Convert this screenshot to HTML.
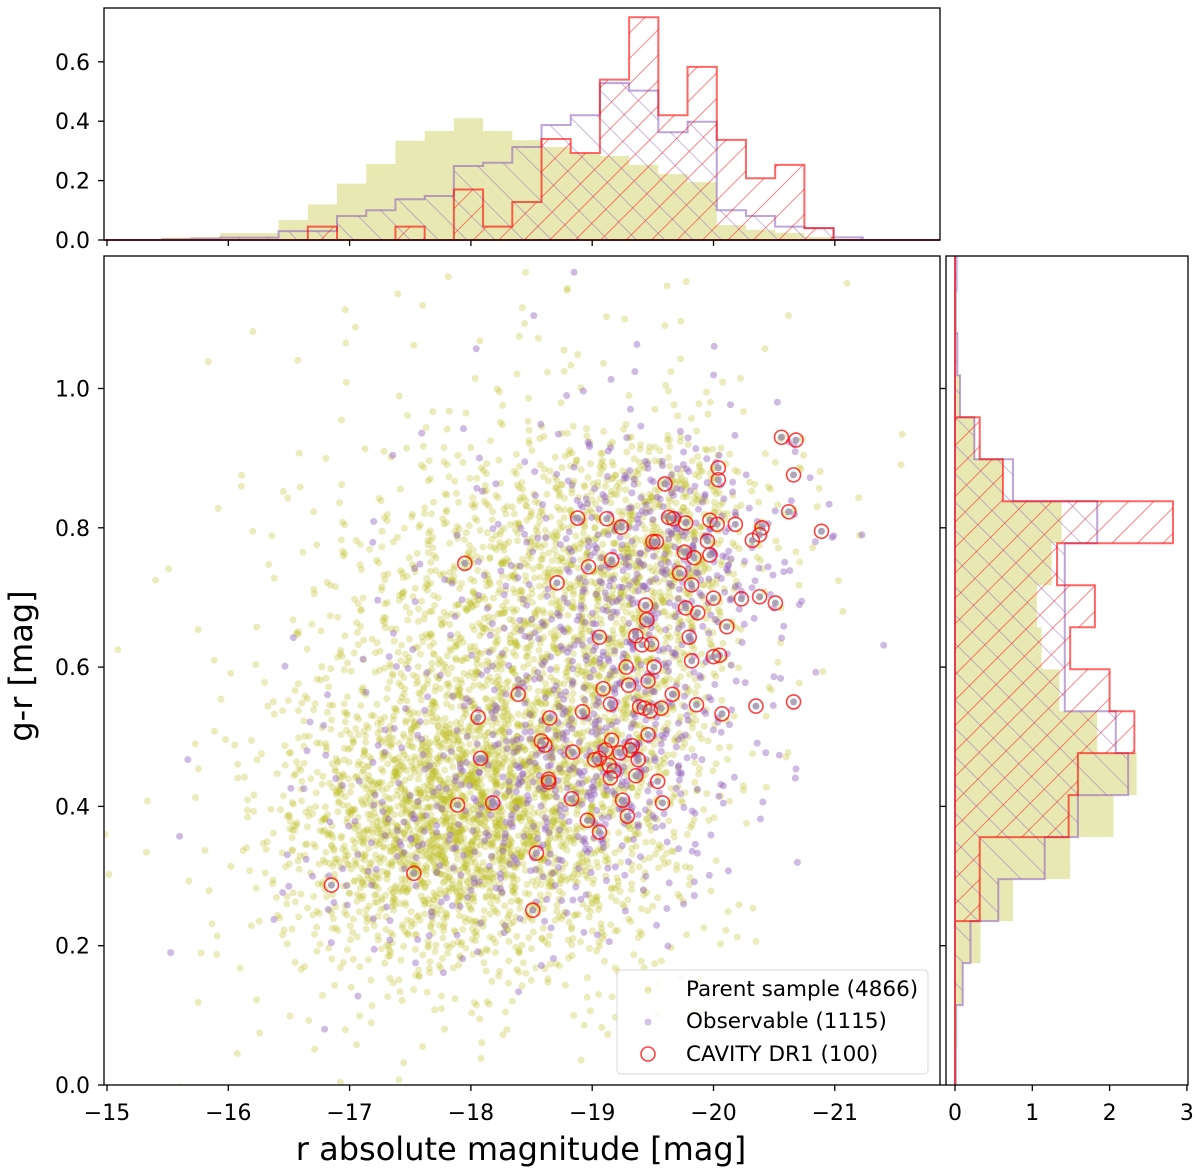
<!DOCTYPE html>
<html><head><meta charset="utf-8"><style>
html,body{margin:0;padding:0;background:#fff;}
svg{display:block;font-family:"DejaVu Sans","Liberation Sans",sans-serif;}
</style></head><body>
<svg id="chart" width="1200" height="1172" viewBox="0 0 1200 1172" xmlns="http://www.w3.org/2000/svg">
<defs>
<pattern id="redHatch" width="18" height="18" patternUnits="userSpaceOnUse" patternTransform="rotate(45)"><line x1="0" y1="0" x2="0" y2="18" stroke="#ff0000" stroke-opacity="0.6" stroke-width="1.6"/></pattern>
<pattern id="purpleHatch" width="20" height="20" patternUnits="userSpaceOnUse" patternTransform="rotate(-45)"><line x1="0" y1="0" x2="0" y2="20" stroke="#9467bd" stroke-opacity="0.6" stroke-width="1.6"/></pattern>
<clipPath id="clipTop"><rect x="104" y="8" width="836" height="233"/></clipPath>
<clipPath id="clipMain"><rect x="104" y="256" width="836" height="829"/></clipPath>
<clipPath id="clipRight"><rect x="946" y="256" width="242" height="829"/></clipPath>
</defs>
<g id="top-hist" clip-path="url(#clipTop)"></g>
<g id="main-plot" clip-path="url(#clipMain)"></g>
<g id="right-hist" clip-path="url(#clipRight)"></g>
<rect x="104" y="8" width="836" height="232" fill="none" stroke="#000" stroke-width="1.3"/>
<rect x="104" y="256" width="836" height="829" fill="none" stroke="#000" stroke-width="1.3"/>
<rect x="946" y="256" width="242" height="829" fill="none" stroke="#000" stroke-width="1.3"/>
<g id="axes" font-size="22" fill="#000"></g>
<text x="521" y="1160" font-size="32" text-anchor="middle">r absolute magnitude [mag]</text>
<text transform="translate(32,666) rotate(-90)" font-size="32" text-anchor="middle">g-r [mag]</text>
<g>
<rect x="617" y="970" width="311" height="104" rx="4" fill="#fff" fill-opacity="0.85" stroke="#d8d8d8" stroke-width="1"/>
<circle cx="648" cy="990" r="3.5" fill="#bcbd22" fill-opacity="0.35"/>
<text x="686" y="996" font-size="21.5">Parent sample (4866)</text>
<circle cx="648" cy="1022" r="3.5" fill="#9467bd" fill-opacity="0.4"/>
<text x="686" y="1028" font-size="21.5">Observable (1115)</text>
<circle cx="648" cy="1054" r="7" fill="none" stroke="#ff0000" stroke-opacity="0.75" stroke-width="1.6"/>
<text x="686" y="1061" font-size="21.5">CAVITY DR1 (100)</text>
</g>
</svg>
<script>
// ---- data ----
const magTicks = [-15,-16,-17,-18,-19,-20,-21];
const colorTicks = [0.0,0.2,0.4,0.6,0.8,1.0];
const topHistTicks = [0.0,0.2,0.4,0.6];
const rightHistTicks = [0,1,2,3];
const magBinStart = -14.97;
const magBinWidth = 0.2408;
const topParent = [0.002,0.003,0.008,0.01,0.023,0.023,0.067,0.12,0.19,0.256,0.334,0.367,0.41,0.367,0.336,0.313,0.29,0.283,0.253,0.222,0.195,0.05,0.034,0.024,0.01,0.002,0,0,0];
const topObservable = [0,0,0.002,0.004,0.008,0.008,0.03,0.03,0.081,0.1,0.137,0.148,0.249,0.26,0.313,0.387,0.42,0.528,0.503,0.363,0.398,0.1,0.081,0.045,0.04,0.009,0,0,0];
const topCavity = [0,0,0,0,0,0,0,0.045,0,0,0.045,0,0.17,0.045,0.128,0.34,0.293,0.54,0.75,0.42,0.583,0.337,0.208,0.253,0.04,0,0,0,0];
const colorBinStart = -0.006;
const colorBinWidth = 0.0603;
const rightParent = [0.02,0.03,0.1,0.33,0.75,1.49,2.05,2.35,1.84,1.35,1.12,1.06,1.25,1.38,0.62,0.26,0.065,0.02,0.01,0.01];
const rightObservable = [0.01,0.01,0.1,0.2,0.56,1.16,1.59,2.24,2.08,1.42,1.42,1.42,1.42,1.84,0.75,0.25,0.065,0.03,0.01,0.02];
const rightCavity = [0,0,0,0,0.32,0.32,1.47,1.59,2.32,2.0,1.49,1.81,1.32,2.82,0.62,0.32,0,0,0,0];
// density grids: rows = g-r bins (0.1 wide from 0), cols = mag bins (0.5 wide from -15)
const gridMagStart = -15, gridMagStep = 0.5, gridColStart = 0, gridColStep = 0.1;
const parentGrid = [
[0,1,1,2,3,3,2,2,1,0,0,0,0],
[1,2,4,8,15,20,20,15,10,5,0,0,0],
[1,3,8,35,80,110,90,60,35,15,3,0,0],
[2,4,12,70,190,280,230,140,70,20,2,0,0],
[1,3,10,50,130,220,230,170,110,40,5,1,0],
[1,2,5,25,50,100,130,130,120,60,6,1,0],
[0,2,4,15,30,70,100,110,120,75,8,2,0],
[0,1,3,10,25,60,90,110,140,150,20,5,1],
[0,1,1,5,10,25,45,70,85,120,25,8,2],
[0,1,1,2,3,6,8,10,10,12,4,2,1],
[0,0,1,1,2,3,4,4,4,3,2,1,0],
[0,0,0,1,1,2,2,3,2,2,1,1,0]];
const observableGrid = [
[0,0,0,0,0,0,0,0,0,0,0,0,0],
[0,0,0,1,1,1,1,1,1,0,0,0,0],
[0,1,1,4,10,12,10,8,6,3,1,0,0],
[0,1,1,6,15,25,35,35,25,10,2,1,0],
[0,1,1,3,12,20,40,55,65,30,6,1,0],
[0,0,0,2,6,10,20,35,50,25,6,2,0],
[0,0,0,1,3,5,15,30,55,35,8,3,1],
[0,0,0,0,2,3,12,20,50,70,25,7,1],
[0,0,0,0,1,2,6,12,35,40,10,4,0],
[0,0,0,0,0,1,2,3,4,4,2,1,0],
[0,0,0,0,0,0,1,1,2,1,1,0,0],
[0,0,0,0,0,0,0,1,1,0,0,0,0]];
const cavityMag = [-20.56,-20.68,-20.04,-20.66,-20.04,-19.60,-18.88,-19.12,-19.24,-19.67,-19.97,-19.77,-20.03,-20.18,-20.40,-19.50,-19.53,-20.62,-20.89,-20.38,-20.32,-19.95,-19.97,-19.76,-17.95,-19.84,-18.97,-19.16,-18.71,-19.72,-19.82,-20.00,-20.23,-20.38,-20.51,-19.44,-19.77,-19.45,-19.87,-20.11,-19.06,-19.36,-19.80,-19.41,-19.49,-20.05,-19.82,-20.00,-19.28,-19.51,-19.46,-19.30,-19.09,-19.66,-19.15,-18.39,-20.35,-20.66,-19.86,-19.39,-19.43,-19.48,-19.57,-20.07,-18.92,-18.06,-18.65,-19.46,-19.33,-19.31,-18.61,-18.58,-18.84,-18.08,-19.23,-19.06,-19.14,-19.18,-19.38,-19.15,-19.36,-18.64,-18.64,-19.54,-18.83,-19.25,-17.89,-18.18,-19.29,-19.58,-18.96,-19.06,-18.54,-16.85,-17.53,-18.51,-19.16,-19.11,-19.02,-19.63];
const cavityColor = [0.930,0.926,0.886,0.876,0.869,0.863,0.814,0.813,0.801,0.813,0.811,0.807,0.805,0.805,0.800,0.780,0.780,0.823,0.795,0.790,0.782,0.781,0.761,0.765,0.749,0.757,0.744,0.754,0.721,0.735,0.718,0.699,0.698,0.701,0.692,0.689,0.685,0.668,0.678,0.658,0.643,0.645,0.643,0.632,0.633,0.617,0.609,0.615,0.600,0.600,0.580,0.574,0.569,0.561,0.547,0.561,0.544,0.550,0.546,0.543,0.541,0.537,0.541,0.533,0.536,0.528,0.527,0.503,0.487,0.481,0.488,0.494,0.478,0.469,0.477,0.469,0.459,0.451,0.467,0.441,0.444,0.439,0.435,0.436,0.411,0.409,0.402,0.405,0.386,0.405,0.380,0.363,0.333,0.287,0.304,0.251,0.495,0.481,0.467,0.815];

// ---- scales ----
const SVGNS = "http://www.w3.org/2000/svg";
function X(m){ return 107 + (-m - 15) * 121.3; }
function Y(c){ return 1085 - c * 696.5; }
function Yt(v){ return 240 - v * 297; }
function Xr(v){ return 955 + v * 77.3; }
function mk(tag, attrs, parent){ const e=document.createElementNS(SVGNS,tag); for(const k in attrs) e.setAttribute(k,attrs[k]); parent.appendChild(e); return e; }
function halton(i,b){ let f=1,r=0; while(i>0){ f/=b; r+=f*(i%b); i=Math.floor(i/b);} return r; }

// ---- top histogram ----
const topG = document.getElementById('top-hist');
function topPath(vals){
  let d = 'M'+X(magBinStart)+','+Yt(0);
  vals.forEach((v,k)=>{ const a=X(magBinStart-magBinWidth*k), b=X(magBinStart-magBinWidth*(k+1)); d+=' L'+a+','+Yt(v)+' L'+b+','+Yt(v); });
  d += ' L'+X(magBinStart-magBinWidth*vals.length)+','+Yt(0)+' Z';
  return d;
}
let p;
p = mk('path',{d:topPath(topParent),fill:'#bcbd22','fill-opacity':'0.35',stroke:'none'},topG);


p = mk('path',{d:topPath(topObservable),fill:'url(#purpleHatch)',stroke:'#9467bd','stroke-opacity':'0.6','stroke-width':'2'},topG);


p = mk('path',{d:topPath(topCavity),fill:'url(#redHatch)',stroke:'#ff0000','stroke-opacity':'0.6','stroke-width':'2'},topG);



// ---- right histogram ----
const rightG = document.getElementById('right-hist');
function rightPath(vals){
  let d = 'M'+Xr(0)+','+Y(colorBinStart);
  vals.forEach((v,k)=>{ const a=Y(colorBinStart+colorBinWidth*k), b=Y(colorBinStart+colorBinWidth*(k+1)); d+=' L'+Xr(v)+','+a+' L'+Xr(v)+','+b; });
  d += ' L'+Xr(0)+','+Y(colorBinStart+colorBinWidth*vals.length)+' Z';
  return d;
}
p = mk('path',{d:rightPath(rightParent),fill:'#bcbd22','fill-opacity':'0.35',stroke:'none'},rightG);


p = mk('path',{d:rightPath(rightObservable),fill:'url(#purpleHatch)',stroke:'#9467bd','stroke-opacity':'0.6','stroke-width':'2'},rightG);


p = mk('path',{d:rightPath(rightCavity),fill:'url(#redHatch)',stroke:'#ff0000','stroke-opacity':'0.6','stroke-width':'2'},rightG);



// ---- scatter ----
const mainG = document.getElementById('main-plot');
let seq = 1;
function drawGrid(grid, color, opacity, name){
  const g = mk('g',{},mainG);
  
  
  grid.forEach((row,r)=>{ row.forEach((n,c)=>{
    for(let i=0;i<n;i++){
      const u = halton(seq,2)+halton(seq,5)-0.5, v = halton(seq,3)+halton(seq,7)-0.5; seq++;
      const m = gridMagStart - gridMagStep*(c+u);
      const col = gridColStart + gridColStep*(r+v);
      const dot = mk('circle',{cx:X(m).toFixed(1),cy:Y(col).toFixed(1),r:'3.5',fill:color,'fill-opacity':opacity},g);
      
      
    }
  });});
}
drawGrid(parentGrid,'#bcbd22','0.3','parent-sample-points');
drawGrid(observableGrid,'#9467bd','0.45','observable-points');
const cg = mk('g',{},mainG);


cavityMag.forEach((m,i)=>{
  const inner = mk('circle',{cx:X(m),cy:Y(cavityColor[i]),r:'3.5',fill:'#9b8fa6','fill-opacity':'0.8'},cg);
  
  
  const c = mk('circle',{cx:X(m),cy:Y(cavityColor[i]),r:'7',fill:'none',stroke:'#ff0000','stroke-opacity':'0.75','stroke-width':'1.6'},cg);
  
  
});

// ---- axes ----
const ax = document.getElementById('axes');
magTicks.forEach(t=>{
  let l = mk('line',{x1:X(t),x2:X(t),y1:1085,y2:1091,stroke:'#000','stroke-width':'1.3'},ax);
  
  
  l = mk('line',{x1:X(t),x2:X(t),y1:240,y2:246,stroke:'#000','stroke-width':'1.3'},ax);
  
  
  const tx = mk('text',{x:X(t),y:1120,'text-anchor':'middle'},ax);
  tx.textContent = '\u2212'+Math.abs(t);
  
  
});
colorTicks.forEach(t=>{
  let l = mk('line',{x1:98,x2:104,y1:Y(t),y2:Y(t),stroke:'#000','stroke-width':'1.3'},ax);
  
  
  l = mk('line',{x1:946,x2:940,y1:Y(t),y2:Y(t),stroke:'#000','stroke-width':'1.3'},ax);
  
  
  const tx = mk('text',{x:90,y:Y(t)+8,'text-anchor':'end'},ax);
  tx.textContent = t.toFixed(1);
  
  
});
topHistTicks.forEach(t=>{
  const l = mk('line',{x1:98,x2:104,y1:Yt(t),y2:Yt(t),stroke:'#000','stroke-width':'1.3'},ax);
  
  
  const tx = mk('text',{x:90,y:Yt(t)+8,'text-anchor':'end'},ax);
  tx.textContent = t.toFixed(1);
  
  
});
rightHistTicks.forEach(t=>{
  const l = mk('line',{x1:Xr(t),x2:Xr(t),y1:1085,y2:1091,stroke:'#000','stroke-width':'1.3'},ax);
  
  
  const tx = mk('text',{x:Xr(t),y:1120,'text-anchor':'middle'},ax);
  tx.textContent = String(t);
  
  
});
</script>
</body></html>
